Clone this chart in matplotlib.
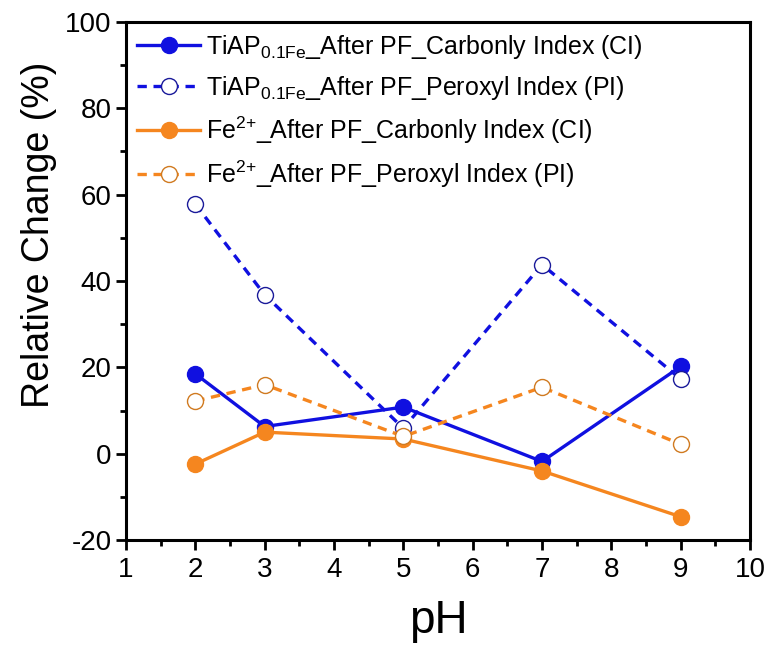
import matplotlib
matplotlib.use("Agg")
import matplotlib.pyplot as plt
from matplotlib.ticker import MultipleLocator

plt.rcParams['font.family'] = ['Liberation Sans', 'DejaVu Sans']
plt.rcParams['mathtext.fontset'] = 'custom'
plt.rcParams['mathtext.rm'] = 'Liberation Sans'
plt.rcParams['mathtext.it'] = 'Liberation Sans'
plt.rcParams['axes.unicode_minus'] = False

# relative change of the indices vs pH
ph = [2, 3, 5, 7, 9]
tiap_ci = [18.5, 6.3, 10.8, -1.8, 20.2]
tiap_pi = [57.8, 36.8, 5.9, 43.8, 17.3]
fe_ci = [-2.4, 5.0, 3.4, -4.0, -14.6]
fe_pi = [12.2, 16.0, 4.0, 15.4, 2.2]

blue = '#1010e0'
orange = '#f5861f'
dash = (2.8, 2.0)

fig = plt.figure(figsize=(7.78, 6.46), dpi=100)
ax = fig.add_axes([0.162, 0.164, 0.802, 0.802])

ax.plot(ph, tiap_ci, '-', color=blue, lw=2.4, marker='o', ms=11.5,
        mfc=blue, mec=blue, label=r'TiAP$_{\mathregular{0.1Fe}}$_After PF_Carbonly Index (CI)')
ax.plot(ph, tiap_pi, '--', color=blue, lw=2.4, dashes=dash, marker='o', ms=11.5,
        mfc='white', mec='#1a1a9a', mew=1.0, label=r'TiAP$_{\mathregular{0.1Fe}}$_After PF_Peroxyl Index (PI)')
ax.plot(ph, fe_ci, '-', color=orange, lw=2.4, marker='o', ms=11.5,
        mfc=orange, mec=orange, label=r'Fe$^{\mathregular{2{+}}}$_After PF_Carbonly Index (CI)')
ax.plot(ph, fe_pi, '--', color=orange, lw=2.4, dashes=dash, marker='o', ms=11.5,
        mfc='white', mec='#d07a20', mew=1.0, label=r'Fe$^{\mathregular{2{+}}}$_After PF_Peroxyl Index (PI)')

ax.set_xlim(1, 10)
ax.set_ylim(-20, 100)
ax.xaxis.set_major_locator(MultipleLocator(1))
ax.xaxis.set_minor_locator(MultipleLocator(0.5))
ax.yaxis.set_major_locator(MultipleLocator(20))
ax.yaxis.set_minor_locator(MultipleLocator(10))
ax.tick_params(which='both', direction='out', width=2, labelsize=20, top=False, right=False)
ax.tick_params(which='major', length=7)
ax.tick_params(which='minor', length=4)
ax.tick_params(axis='x', which='major', pad=5)
for s in ax.spines.values():
    s.set_linewidth(2.2)

ax.set_xlabel('pH', fontsize=33, labelpad=12)
ax.set_ylabel('Relative Change (%)', fontsize=27)
ax.yaxis.set_label_coords(-0.11, 0.59)

ax.legend(loc='upper left', frameon=False, fontsize=18, handlelength=2.5,
          borderaxespad=0.15, borderpad=0.3, labelspacing=0.5, handletextpad=0.25)

fig.savefig('out.png', dpi=100)
